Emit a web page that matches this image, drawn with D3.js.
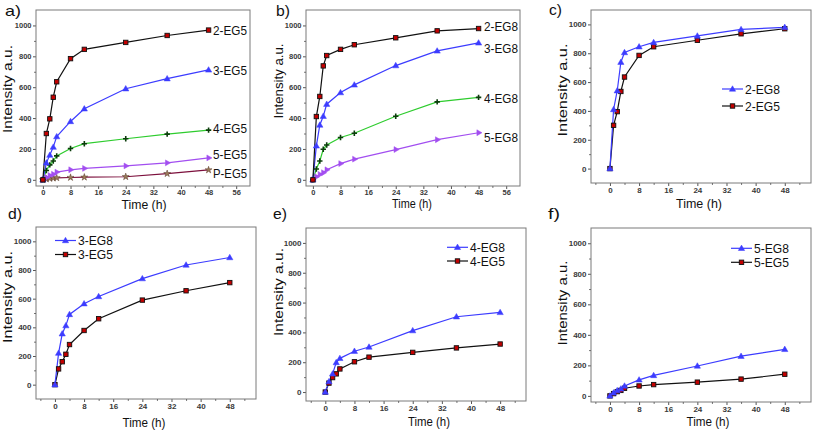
<!DOCTYPE html>
<html><head><meta charset="utf-8">
<script src="https://cdn.jsdelivr.net/npm/d3@7/dist/d3.min.js"></script>
<style>body{margin:0;background:#fff}svg{display:block}</style>
</head><body>
<svg id="chart" width="813" height="431"></svg>
<script>
// ---------- data ----------
const times = [0, 1, 2, 3, 4, 8, 12, 24, 36, 48];
const eg5_2 = [0, 300, 395, 535, 635, 785, 845, 890, 935, 970];
const eg5_3 = [0, 110, 160, 212, 280, 378, 460, 590, 655, 712];
const eg5_4 = [0, 60, 97, 122, 155, 203, 234, 266, 296, 322];
const eg5_5 = [0, 15, 28, 36, 50, 65, 74, 90, 110, 142];
const eg5_P = [0, 5, 9, 11, 13, 15, 17, 20, 40, 64];
const eg8_2 = [0, 410, 540, 738, 805, 845, 875, 920, 965, 980];
const eg8_3 = [0, 220, 355, 412, 490, 565, 615, 740, 835, 887];
const eg8_4 = [0, 70, 122, 198, 226, 274, 302, 412, 505, 534];
const eg8_5 = [0, 20, 35, 46, 65, 105, 134, 196, 260, 305];
const xTicksWide = [0, 8, 16, 24, 32, 40, 48, 56];
const xTicksNarrow = [0, 8, 16, 24, 32, 40, 48];
const yTicks = [0, 200, 400, 600, 800, 1000];
const panelLetters = ["a)", "b)", "c)", "d)", "e)", "f)"];

// ---------- styles ----------
const FONT = 'Arial, "Liberation Sans", Helvetica, sans-serif';
const C = {black: "#111111", blue: "#3c3cff", green: "#2ecc2e", purple: "#a24ef0", maroon: "#7c0f3c"};
const svg = d3.select("#chart");

function drawMarker(g, type, cx, cy, color) {
  if (type === "square") {
    g.append("rect").attr("x", cx - 2.2).attr("y", cy - 2.2).attr("width", 4.4).attr("height", 4.4)
      .attr("fill", "#c40000").attr("stroke", "#111").attr("stroke-width", 0.9);
  } else if (type === "tri") {
    g.append("path").attr("d", d3.symbol(d3.symbolTriangle, 17)()).attr("transform", `translate(${cx},${cy+0.4})`)
      .attr("fill", color).attr("stroke", color).attr("stroke-width", 0.5);
  } else if (type === "rtri") {
    g.append("path").attr("d", d3.symbol(d3.symbolTriangle, 15)()).attr("transform", `translate(${cx},${cy}) rotate(90)`)
      .attr("fill", color).attr("stroke", color).attr("stroke-width", 0.5);
  } else if (type === "cross") {
    g.append("path").attr("d", `M${cx-2.7},${cy}H${cx+2.7}M${cx},${cy-2.7}V${cy+2.7}`)
      .attr("stroke", "#0b3d0b").attr("stroke-width", 1.6).attr("fill", "none");
  } else if (type === "star") {
    g.append("path").attr("d", d3.symbol(d3.symbolStar, 15)()).attr("transform", `translate(${cx},${cy})`)
      .attr("fill", "#9a7a5a").attr("stroke", "#5a3a2a").attr("stroke-width", 0.5);
  }
}

function addText(g, str, x, y, size, len, opts = {}) {
  const t = g.append("text").attr("x", x).attr("y", y).text(str)
    .attr("font-family", FONT).attr("font-size", size).attr("fill", opts.fill || "#111")
    .attr("text-anchor", opts.anchor || "start");
  if (len) t.attr("textLength", len).attr("lengthAdjust", "spacingAndGlyphs");
  if (opts.rotate) t.attr("transform", `rotate(-90,${x},${y})`);
  if (opts.weight) t.attr("font-weight", opts.weight);
  return t;
}

function panel(cfg) {
  const g = svg.append("g");
  const x = d3.scaleLinear().domain(cfg.xd).range([cfg.L, cfg.R]);
  const y = d3.scaleLinear().domain(cfg.yd).range([cfg.B, cfg.T]);

  const xMinor = d3.range(Math.ceil(cfg.xd[0] / 4) * 4, cfg.xd[1], 4)
    .filter(v => cfg.xt.indexOf(v) < 0 && x(v) > cfg.L + 1 && x(v) < cfg.R - 1);
  const yMinor = d3.range(Math.ceil(cfg.yd[0] / 100) * 100, cfg.yd[1], 100)
    .filter(v => yTicks.indexOf(v) < 0 && y(v) < cfg.B - 1 && y(v) > cfg.T + 1);

  const style = sel => {
    sel.select(".domain").remove();
    sel.selectAll("line").attr("stroke", "#555");
    sel.selectAll("text").attr("font-family", FONT).attr("font-size", cfg.tickFs)
      .attr("font-weight", "bold").attr("fill", "#3a3a3a");
  };
  const fmt = d3.format("d");
  g.append("g").attr("transform", `translate(0,${cfg.B})`)
    .call(d3.axisBottom(x).tickValues(cfg.xt).tickFormat(fmt).tickSize(3).tickPadding(1).tickSizeOuter(0)).call(style);
  g.append("g").attr("transform", `translate(0,${cfg.B})`)
    .call(d3.axisBottom(x).tickValues(xMinor).tickSize(1.8).tickFormat("").tickSizeOuter(0)).call(style);
  g.append("g").attr("transform", `translate(${cfg.L},0)`)
    .call(d3.axisLeft(y).tickValues(yTicks).tickFormat(fmt).tickSize(3).tickPadding(1.5).tickSizeOuter(0)).call(style);
  g.append("g").attr("transform", `translate(${cfg.L},0)`)
    .call(d3.axisLeft(y).tickValues(yMinor).tickSize(1.8).tickFormat("").tickSizeOuter(0)).call(style);

  g.append("rect").attr("x", cfg.L).attr("y", cfg.T).attr("width", cfg.R - cfg.L).attr("height", cfg.B - cfg.T)
    .attr("fill", "none").attr("stroke", "#7a7a7a").attr("stroke-width", 1);

  const line = d3.line().x((d, i) => x(times[i])).y(d => y(d));
  cfg.series.forEach(s => {
    g.append("path").datum(s.values).attr("d", line).attr("fill", "none")
      .attr("stroke", s.color).attr("stroke-width", 1.2);
  });
  cfg.series.forEach(s => {
    s.values.forEach((v, i) => drawMarker(g, s.marker, x(times[i]), y(v), s.color));
  });

  if (cfg.endLabels) {
    cfg.series.forEach(s => addText(g, s.name, cfg.labelX, s.labelY + 4.6, 13, s.labelLen));
  }
  if (cfg.legend) {
    cfg.series.forEach((s, i) => {
      const ly = cfg.legend.y[i];
      g.append("line").attr("x1", cfg.legend.x1).attr("x2", cfg.legend.x2).attr("y1", ly).attr("y2", ly)
        .attr("stroke", s.color).attr("stroke-width", 1.2);
      drawMarker(g, s.marker, (cfg.legend.x1 + cfg.legend.x2) / 2, ly, s.color);
      addText(g, s.name, cfg.legend.tx, ly + 4.8, 13.5, cfg.legend.len);
    });
  }

  addText(g, "Time (h)", cfg.timeX, cfg.timeY, 12.5, cfg.timeLen, {anchor: "middle"});
  addText(g, "Intensity a.u.", cfg.intX, cfg.intY, 12.5, cfg.intLen, {anchor: "middle", rotate: true});
  addText(g, cfg.letter, cfg.letterX, cfg.letterY, 14.5, cfg.letterLen);
}

const S = (name, values, color, marker, labelY, labelLen) => ({name, values, color, marker, labelY, labelLen});

panel({
  L: 36, R: 250, T: 10, B: 186, xd: [-2, 60], yd: [-40, 1100], xt: xTicksWide, tickFs: 7.5,
  series: [
    S("P-EG5", eg5_P, C.maroon, "star", 173, 34),
    S("5-EG5", eg5_5, C.purple, "rtri", 154, 34),
    S("4-EG5", eg5_4, C.green, "cross", 128, 34),
    S("3-EG5", eg5_3, C.blue, "tri", 70, 34),
    S("2-EG5", eg5_2, C.black, "square", 30, 34)
  ],
  endLabels: true, labelX: 213,
  timeX: 144, timeY: 209, timeLen: 45, intX: 12, intY: 89, intLen: 88,
  letter: panelLetters[0], letterX: 5, letterY: 16, letterLen: 16
});
panel({
  L: 306, R: 520, T: 10, B: 186, xd: [-2, 60], yd: [-40, 1100], xt: xTicksWide, tickFs: 7.5,
  series: [
    S("5-EG8", eg8_5, C.purple, "rtri", 137, 34),
    S("4-EG8", eg8_4, C.green, "cross", 98, 34),
    S("3-EG8", eg8_3, C.blue, "tri", 48, 34),
    S("2-EG8", eg8_2, C.black, "square", 26, 34)
  ],
  endLabels: true, labelX: 484,
  timeX: 412, timeY: 208, timeLen: 40, intX: 283, intY: 81, intLen: 75,
  letter: panelLetters[1], letterX: 276, letterY: 16, letterLen: 14
});
panel({
  L: 591, R: 811, T: 10, B: 183, xd: [-5.2, 55.2], yd: [-100, 1100], xt: xTicksNarrow, tickFs: 8,
  series: [
    S("2-EG5", eg5_2, C.black, "square"),
    S("2-EG8", eg8_2, C.blue, "tri")
  ],
  legend: {x1: 722, x2: 743, tx: 745, y: [106, 89], len: 35},
  timeX: 699, timeY: 208, timeLen: 46, intX: 567, intY: 90, intLen: 93,
  letter: panelLetters[2], letterX: 549, letterY: 15, letterLen: 13
});
panel({
  L: 36, R: 256, T: 227, B: 399, xd: [-5.2, 55.2], yd: [-100, 1100], xt: xTicksNarrow, tickFs: 8,
  series: [
    S("3-EG5", eg5_3, C.black, "square"),
    S("3-EG8", eg8_3, C.blue, "tri")
  ],
  legend: {x1: 55, x2: 76, tx: 78, y: [254.5, 240.5], len: 35},
  timeX: 144, timeY: 427, timeLen: 43, intX: 12, intY: 297, intLen: 92,
  letter: panelLetters[3], letterX: 8, letterY: 219, letterLen: 14
});
panel({
  L: 306, R: 526, T: 228, B: 401, xd: [-5.3, 55.1], yd: [-60, 1100], xt: xTicksNarrow, tickFs: 8,
  series: [
    S("4-EG5", eg5_4, C.black, "square"),
    S("4-EG8", eg8_4, C.blue, "tri")
  ],
  legend: {x1: 447, x2: 468, tx: 470, y: [261, 247.3], len: 35},
  timeX: 429, timeY: 426, timeLen: 42, intX: 283, intY: 292, intLen: 88,
  letter: panelLetters[4], letterX: 273, letterY: 219, letterLen: 14
});
panel({
  L: 591, R: 811, T: 228, B: 402, xd: [-5.2, 55.2], yd: [-40, 1100], xt: xTicksNarrow, tickFs: 8,
  series: [
    S("5-EG5", eg5_5, C.black, "square"),
    S("5-EG8", eg8_5, C.blue, "tri")
  ],
  legend: {x1: 731, x2: 752, tx: 754, y: [262.3, 248.3], len: 35},
  timeX: 708, timeY: 426, timeLen: 43, intX: 567, intY: 303, intLen: 85,
  letter: panelLetters[5], letterX: 548, letterY: 219, letterLen: 12
});
</script>
</body></html>
